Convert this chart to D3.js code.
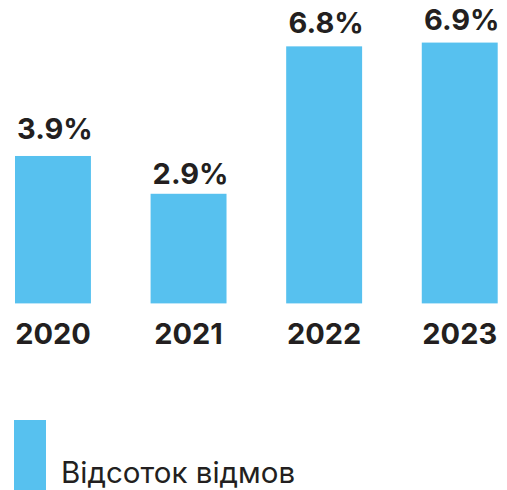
<!DOCTYPE html>
<html>
<head>
<meta charset="utf-8">
<script src="https://cdn.jsdelivr.net/npm/d3@7/dist/d3.min.js"></script>
<style>
  html, body { margin: 0; padding: 0; background: #ffffff; }
  svg { display: block; }
  text { font-family: Inter, "Noto Sans", sans-serif; fill: #231f20; }
</style>
</head>
<body>
<svg id="chart" width="507" height="490"></svg>
<script>
// Refusal rate by year
const years = ["2020", "2021", "2022", "2023"];
const refusalRate = [3.9, 2.9, 6.8, 6.9];
const seriesName = "Відсоток відмов";

const barColor = "#57c1ef";
const svg = d3.select("#chart");

const x = d3.scaleBand()
  .domain(years)
  .range([15, 497.7])
  .paddingInner(0.44)
  .paddingOuter(0);

const baseY = 303.4;
const y = d3.scaleLinear()
  .domain([0, 1])
  .range([baseY, baseY - 37.8]);

// distance from bar top to value label baseline
const labelLift = [17, 9.5, 13.5, 12.5];

const rows = years.map((yr, i) => ({ year: yr, value: refusalRate[i], i }));

svg.append("g")
  .selectAll("rect")
  .data(rows)
  .join("rect")
  .attr("x", d => x(d.year))
  .attr("width", x.bandwidth())
  .attr("y", d => y(d.value))
  .attr("height", d => baseY - y(d.value))
  .attr("fill", barColor);

svg.append("g")
  .selectAll("text")
  .data(rows)
  .join("text")
  .attr("x", d => x(d.year) + x.bandwidth() / 2 + 2)
  .attr("y", d => y(d.value) - labelLift[d.i])
  .attr("text-anchor", "middle")
  .attr("font-size", 29)
  .attr("font-weight", 700)
  .text(d => d.value.toFixed(1) + "%");

// category axis labels below the bars
const xAxis = svg.append("g")
  .attr("transform", `translate(0,${baseY})`)
  .call(d3.axisBottom(x).tickSize(0).tickPadding(0));
xAxis.select(".domain").remove();
xAxis.selectAll("text")
  .attr("y", 41)
  .attr("dy", null)
  .attr("font-size", 29)
  .attr("font-weight", 700)
  .style("font-family", "Inter, 'Noto Sans', sans-serif")
  .attr("fill", "#231f20");

// legend
const legend = svg.append("g");
legend.append("rect")
  .attr("x", 14).attr("y", 420)
  .attr("width", 32).attr("height", 72)
  .attr("fill", barColor);
legend.append("text")
  .attr("x", 61).attr("y", 483.3)
  .attr("font-size", 29.5)
  .attr("font-weight", 400)
  .attr("fill", "#231f20")
  .text(seriesName);
</script>
</body>
</html>
